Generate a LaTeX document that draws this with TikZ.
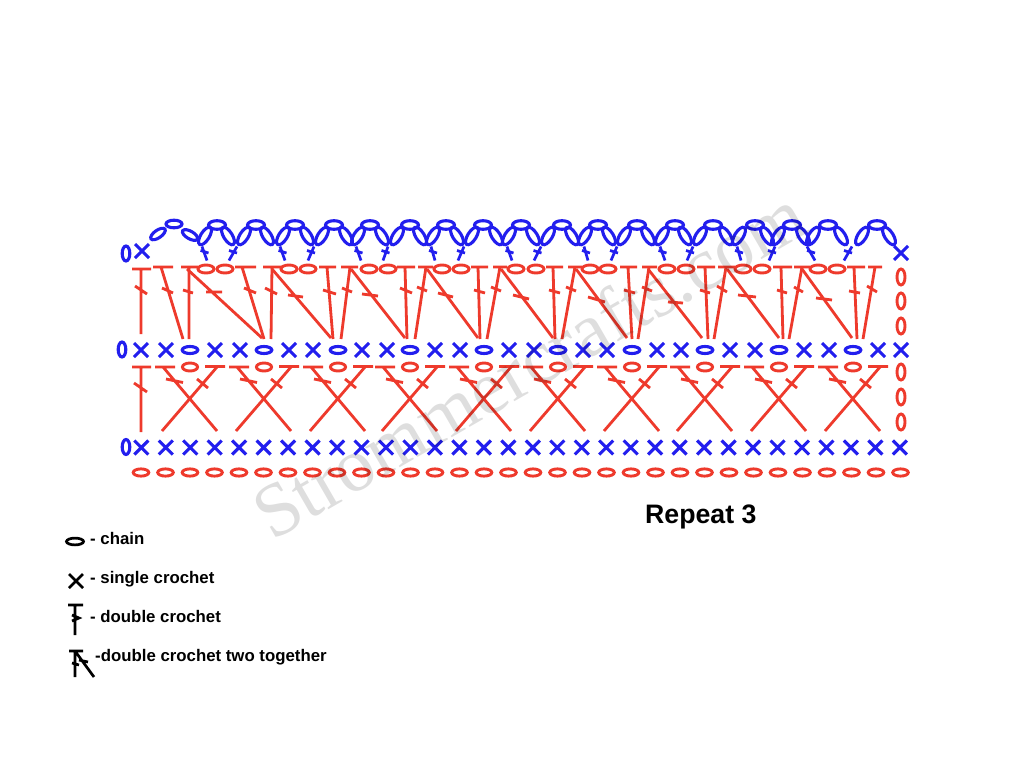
\documentclass[tikz,border=0pt]{standalone}
\usepackage{fontspec}
\setmainfont{Liberation Sans}
\newfontfamily\wmfont{Liberation Serif}
\definecolor{cred}{RGB}{238,58,44}
\definecolor{cblue}{RGB}{34,30,238}
\newcommand{\ovl}[6][]{\draw[#1] (#2,#3) ellipse [x radius=#4pt,y radius=#5pt,rotate=#6];}
\newcommand{\crs}[3]{\draw[#1] (#2-7,#3-7) -- (#2+7,#3+7) (#2-7,#3+7) -- (#2+7,#3-7);}
\tikzset{
 bl/.style={draw=cblue,line width=3.1pt},
 blth/.style={draw=cblue,line width=2.7pt},
 rd/.style={draw=cred,line width=2.8pt},
 rdo/.style={draw=cred,line width=2.9pt},
 bk/.style={draw=black,line width=2.7pt},
 lgd/.style={anchor=base west,inner sep=0pt,font=\fontsize{16.8}{20}\selectfont\bfseries},
}
\begin{document}
\begin{tikzpicture}[x=1pt,y=-1pt]
\path[fill=white] (0,0) rectangle (1024,768);
\useasboundingbox (0,0) rectangle (1024,768);
% foundation chain
\foreach \i in {0,...,31}{\pgfmathsetmacro\xx{141+24.5*\i}\ovl[rdo]{\xx}{472.5}{7.8}{3.6}{0}}
% row 1 single crochet
\ovl[bl]{126}{447}{3.8}{7.5}{0}
\foreach \i in {0,...,31}{\pgfmathsetmacro\xx{141.3+24.47*\i}\crs{bl}{\xx}{447.5}}
% row 2
\draw[rd] (132,367) -- (151,367) (141,367) -- (141,432) (134,383) -- (147,392);
\foreach \c in {190,264,338,410,484,558,632,705,779,853}{
 \ovl[rdo]{\c}{367}{7.6}{4}{0}
 \draw[rd] (\c-35,367) -- (\c-15,367) (\c+15,366.5) -- (\c+35,366.5)
  (\c-27,367) -- (\c+27,431) (\c+27,367) -- (\c-28,431)
  (\c-24,379) -- (\c-7,382.5) (\c+7,379) -- (\c+18,388);
}
\foreach \y in {372,397,422}{\ovl[rdo]{901}{\y}{4}{8}{0}}
% row 3 single crochet
\ovl[bl]{122}{349.5}{3.8}{7.5}{0}
\foreach \x in {141,166,215,240,289,313,362,387,435,460,509,534,583,607,657,681,730,755,804,829,878,901}{\crs{bl}{\x}{350}}
\foreach \x in {190,264,338,410,484,558,632,705,779,853}{\ovl[bl]{\x}{350}{7.8}{3.5}{0}}
% row 4 double crochet
\draw[rd] (132,269) -- (151,269) (141,269) -- (141,334) (135,286) -- (147,294);
\foreach \a/\b/\c/\d/\e/\f/\g/\h in {
 153/173/161/183/162/288/173/293, 181/198/189/189/183/290/193/293,
 235/256/242/264/244/288/256/293, 263/282/272/271/265/288/277/294,
 319/336/327/333/323/290/336/294, 341/358/350/341/342/288/352/292,
 397/415/405/407/400/288/412/293, 418/433/426/415/417/287/427/291,
 471/488/478/480/474/290/485/293, 493/507/500/487/491/287/501/291,
 546/563/553/555/549/290/560/293, 568/582/575/562/566/287/576/291,
 620/637/628/632/624/290/635/293, 642/657/649/638/642/287/652/291,
 697/715/705/708/700/290/710/293, 718/735/726/714/717/286/727/292,
 773/792/781/783/777/290/787/293, 794/810/802/789/794/287/803/292,
 847/865/854/857/849/291/860/293, 868/882/875/863/867/286/877/292}{
 \draw[rd] (\a,267) -- (\b,267) (\c,267) -- (\d,339) (\e,\f) -- (\g,\h);
}
\foreach \a/\b/\c/\d/\e/\f in {
 187/262/206/292/222/292, 272/331/288/295/303/297, 351/405/362/294/378/296,
 427/478/438/293/453/297, 501/553/513/295/529/299, 576/627/588/297/605/302,
 648/702/668/302/683/303, 727/779/738/295/756/297, 802/852/816/298/832/300}{
 \draw[rd] (\a,269) -- (\b,338) (\c,\d) -- (\e,\f);
}
\foreach \x in {206,225,289,308,369,388,442,461,516,536,590,608,667,686,743,762,818,837}{\ovl[rdo]{\x}{269}{8}{4}{0}}
\foreach \y in {277,301,326}{\ovl[rdo]{901}{\y}{4}{8}{0}}
% top round
\ovl[bl]{126}{253.5}{3.8}{7.5}{0}
\crs{bl}{142}{251}
\crs{bl}{901}{253}
\ovl[bl]{158}{234}{8.5}{3.8}{35}
\ovl[bl]{174}{224}{8}{3.8}{0}
\ovl[bl]{190}{235}{8.5}{3.8}{-30}
\foreach \l/\t/\r in {205/217/228, 244/256/267, 283/295/307, 322/334/346, 358/370/382,
 397/410/420, 433/446/457, 472/483/496, 509/521/533, 548/562/572, 585/598/609,
 624/637/648, 662/675/685, 700/713/726, 739/755/767, 778/792/803, 813/828/841, 862/877/889}{
 \ovl[bl]{\l}{236}{10}{4.3}{58}
 \ovl[bl]{\t}{225}{8.5}{4.3}{0}
 \ovl[bl]{\r}{236}{10}{4.3}{-58}
}
\foreach \t/\b in {202/207, 237/229, 280/285, 314/308, 356/361, 388/383, 431/435, 464/458,
 507/512, 541/534, 584/588, 617/611, 660/665, 693/687, 737/741, 775/769, 807/815, 852/844}{
 \draw[blth] (\t,246.5) -- (\b,260.5);
 \pgfmathsetmacro\mm{(\t+\b)/2}
 \draw[blth] (\mm-4,250.5) -- (\mm+4,253);
}
% legend
\ovl[bk]{75}{541.5}{8.5}{3.4}{0}
\crs{bk}{76}{581}
\draw[bk] (68,605) -- (83,605) (75,605) -- (75,635) (72,615) -- (79,618) -- (72,621);
\draw[bk] (69,651) -- (83,651) (75,651) -- (75,677) (75,651) -- (94,677) (72,663) -- (79,665) (79,660) -- (88,662);
\node[lgd] (t1) at (90,544) {- chain};
\node[lgd] (t2) at (90,583) {- single crochet};
\node[lgd] (t3) at (90,622) {- double crochet};
\node[lgd] (t4) at (95,661) {-double crochet two together};
\node[anchor=base west,inner sep=0pt,font=\fontsize{26.7}{30}\selectfont\bfseries] (rep) at (645,523.5) {Repeat 3};
% watermark
\node[anchor=base west,inner sep=0pt,rotate=30,opacity=0.13,font=\wmfont\fontsize{76}{90}\selectfont] (wm) at (272,542) {Strommercrafts.com};
\end{tikzpicture}
\end{document}
